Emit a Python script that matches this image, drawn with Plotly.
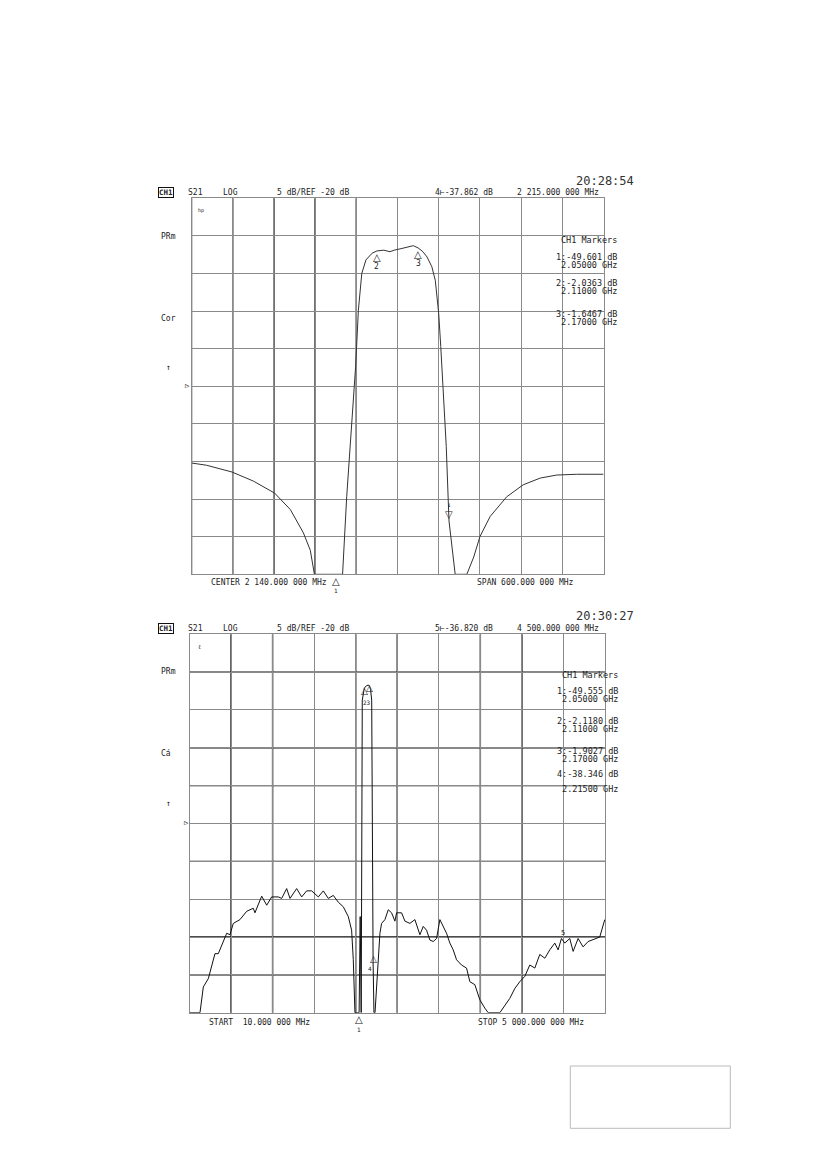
import plotly.graph_objects as go

# page body has an 8 px margin, so the figure is drawn 8 px in from the corner
OFF = 8
W, H = 826 - 2 * OFF, 1169 - 2 * OFF

# ---------------- data ----------------
# Upper trace: CENTER 2140 MHz, SPAN 600 MHz, 5 dB/div, REF -20 dB
top_freq = [1840, 1862, 1899, 1930, 1961, 1984, 2003, 2013, 2019, 2040, 2060,
            2066, 2073, 2079, 2083, 2088, 2094, 2103, 2110, 2120, 2129, 2135,
            2145, 2154, 2163, 2170, 2177, 2183, 2190, 2195, 2200, 2203, 2207,
            2211, 2215, 2219, 2224, 2241, 2251, 2260, 2275, 2299, 2323, 2348,
            2372, 2401, 2440]
top_db = [-30.2, -30.5, -31.4, -32.6, -34.2, -36.4, -39.5, -41.8, -45, -45, -45,
          -34.7, -24.9, -17.4, -9.9, -5.0, -3.2, -2.3, -2.0, -1.9, -2.1, -1.9,
          -1.7, -1.5, -1.3, -1.6, -2.1, -2.8, -4.1, -5.9, -10.3, -14.7, -21.4,
          -28.0, -37.9, -41.3, -45, -45, -42.7, -40.0, -37.3, -34.7, -33.1, -32.2,
          -31.8, -31.7, -31.7]

# Lower trace: START 10 MHz, STOP 5000 MHz
bot_freq = [10, 136, 176, 236, 316, 356, 457, 496, 536, 616, 697, 776, 796, 877,
            937, 997, 1077, 1117, 1177, 1217, 1297, 1357, 1417, 1477, 1557, 1617,
            1677, 1737, 1797, 1857, 1917, 1957, 1977, 1997, 2022, 2047, 2060, 2072,
            2085, 2098, 2110, 2135, 2160, 2172, 2185, 2198, 2205, 2215, 2225, 2238,
            2257, 2277, 2297, 2317, 2357, 2397, 2437, 2477, 2497, 2557, 2597, 2657,
            2717, 2777, 2817, 2857, 2897, 2937, 2977, 3017, 3057, 3097, 3137, 3177,
            3217, 3277, 3337, 3377, 3437, 3497, 3557, 3597, 3737, 3797, 3857, 3917,
            3977, 4037, 4097, 4157, 4217, 4277, 4337, 4397, 4437, 4477, 4517, 4577,
            4617, 4677, 4737, 4797, 4877, 4937, 4997]
bot_db = [-45, -45, -41.6, -40.5, -37.2, -37.2, -34.5, -34.7, -33.2, -32.7, -31.6,
          -31.2, -31.8, -29.6, -30.8, -29.7, -29.7, -29.9, -28.6, -29.9, -28.6,
          -29.7, -28.9, -28.9, -29.7, -28.9, -29.9, -29.5, -30.4, -31.0, -32.3,
          -34.1, -38.0, -45, -45, -45, -32.3, -45, -3.7, -2.4, -2.1, -1.8, -1.7,
          -1.9, -2.3, -3.7, -23.3, -38.3, -45, -45, -41.6, -38.0, -34.5, -33.2,
          -32.7, -31.4, -31.8, -32.9, -31.8, -31.8, -32.9, -33.2, -32.7, -34.7,
          -33.6, -34.1, -35.4, -35.6, -35.2, -32.7, -33.6, -34.5, -35.8, -36.7,
          -38.0, -38.7, -39.1, -40.9, -41.3, -43.3, -44.4, -45, -45, -44.0, -43.1,
          -41.8, -40.9, -40.2, -38.7, -39.1, -37.3, -37.8, -36.7, -35.8, -36.7,
          -35.2, -35.8, -35.2, -36.9, -35.2, -36.3, -35.6, -35.2, -35.0, -32.7]

# marker positions (frequency MHz, dB)
top_mk_freq = [2050, 2110, 2170, 2215]
top_mk_db = [-45, -2.0363, -1.6467, -37.862]
bot_mk_freq = [2050, 2110, 2170, 2215, 4500]
bot_mk_db = [-45, -2.118, -1.9027, -38.346, -35.4]

top_marker_text = ["CH1 Markers", "1:-49.601 dB", " 2.05000 GHz", "2:-2.0363 dB",
                   " 2.11000 GHz", "3:-1.6467 dB", " 2.17000 GHz"]
bot_marker_text = ["CH1 Markers", "1:-49.555 dB", " 2.05000 GHz", "2:-2.1180 dB",
                   " 2.11000 GHz", "3:-1.9027 dB", " 2.17000 GHz", "4:-38.346 dB",
                   " 2.21500 GHz"]

# ---------------- figure ----------------
def px(x):
    return (x - OFF) / W

def py(y):
    return 1 - (y - OFF) / H

FONT = "DejaVu Sans Mono"
fig = go.Figure()

fig.add_trace(go.Scatter(x=top_freq, y=top_db, mode="lines", xaxis="x", yaxis="y",
                         line=dict(color="#333333", width=1), hoverinfo="skip"))
fig.add_trace(go.Scatter(x=bot_freq, y=bot_db, mode="lines", xaxis="x2", yaxis="y2",
                         line=dict(color="#111111", width=1), hoverinfo="skip"))

axis_common = dict(showticklabels=False, ticks="", zeroline=False, showline=True,
                   linecolor="#8a8a8a", linewidth=1, mirror=True, showgrid=True,
                   gridcolor="#8a8a8a", gridwidth=1, fixedrange=True)

fig.update_layout(
    width=W, height=H, margin=dict(l=0, r=0, t=0, b=0),
    paper_bgcolor="white", plot_bgcolor="white", showlegend=False,
    xaxis=dict(domain=[px(191.5), px(603.5)], range=[1840, 2440], tick0=1840,
               dtick=60, anchor="y", **axis_common),
    yaxis=dict(domain=[py(574.3), py(198.3)], range=[-45, 5], tick0=-45, dtick=5,
               anchor="x", **axis_common),
    xaxis2=dict(domain=[px(189.5), px(605)], range=[10, 5000], tick0=10,
                dtick=499, anchor="y2", **axis_common),
    yaxis2=dict(domain=[py(1012.7), py(634.3)], range=[-45, 5], tick0=-45, dtick=5,
                anchor="x2", **axis_common),
)

# darker grid lines (the plotter drew some divisions heavier)
def vline(xr, yr, xv, color="#111111", w=1.4):
    fig.add_shape(type="line", xref=xr, yref=yr + " domain", x0=xv, x1=xv, y0=0, y1=1,
                  line=dict(color=color, width=w), layer="below")

def hline(xr, yr, yv, color="#111111", w=1.4):
    fig.add_shape(type="line", xref=xr + " domain", yref=yr, x0=0, x1=1, y0=yv, y1=yv,
                  line=dict(color=color, width=w), layer="below")

for k in [0, 1, 2, 3, 4]:
    vline("x", "y", 1840 + 60 * k)
for k in [1, 2, 4, 5, 7, 8]:
    vline("x2", "y2", 10 + 499 * k)
for k in [9, 7, 6, 4, 2, 1]:
    hline("x2", "y2", -45 + 5 * k)

# text helper
def T(text, x, y, size=8, anchor="left", color="#222222", **kw):
    fig.add_annotation(text=text, x=px(x), y=py(y), xref="paper", yref="paper",
                       xanchor=anchor, yanchor="middle", showarrow=False,
                       font=dict(family=FONT, size=size, color=color), **kw)

# headers
for (yh, ytime, time, mk, freq) in [(193, 181, "20:28:54", "4⊢-37.862 dB", "2 215.000 000 MHz"),
                                    (628, 616, "20:30:27", "5⊢-36.820 dB", "4 500.000 000 MHz")]:
    T("<b>CH1</b>", 158, yh, size=7.5, bordercolor="#111111", borderwidth=1, borderpad=0)
    T("S21", 186, yh, size=8)
    T("LOG", 221, yh, size=8)
    T("5 dB/REF -20 dB", 275, yh, size=8)
    T(mk, 433, yh, size=8)
    T(freq, 601, yh, size=8, anchor="right")
    T(time, 636, ytime, size=12, anchor="right", color="#333333")

# left-side labels
T("PRm", 159, 236, size=8)
T("Cor", 159, 318, size=8)
T("↑", 164, 368, size=8)
T("▷", 183, 386, size=7)
T("hp", 196, 210, size=5)
T("PRm", 159, 671, size=8)
T("Cá", 159, 753, size=8)
T("↑", 164, 803, size=8)
T("▷", 182, 823, size=7)
T("ℓ", 196, 646, size=6)

# marker tables
for i, s in enumerate(top_marker_text):
    ys = [240, 257, 265, 283, 291, 314, 322][i]
    T(s, 619, ys, size=8.5, anchor="right")
for i, s in enumerate(bot_marker_text):
    ys = [675, 691, 699, 721, 729, 751, 759, 774, 789][i]
    T(s, 620, ys, size=8.5, anchor="right")

# footers
T("CENTER 2 140.000 000 MHz", 209, 582, size=8)
T("SPAN 600.000 000 MHz", 475, 582, size=8)
T("START  10.000 000 MHz", 207, 1022, size=8)
T("STOP 5 000.000 000 MHz", 476, 1022, size=8)

# trace markers (triangles + numbers)
def tri(xr, yr, f, d, shift, down=False, size=10, xshift=0):
    fig.add_annotation(text="▽" if down else "△", x=f, y=d, xref=xr, yref=yr,
                       showarrow=False, yshift=shift, xshift=xshift,
                       font=dict(family="DejaVu Sans", size=size, color="#222"))

def num(xr, yr, f, d, lbl, shift, xshift=0, size=8):
    fig.add_annotation(text=lbl, x=f, y=d, xref=xr, yref=yr, showarrow=False,
                       yshift=shift, xshift=xshift,
                       font=dict(family=FONT, size=size, color="#222"))

tri("x", "y", top_mk_freq[0], top_mk_db[0], -7)
num("x", "y", top_mk_freq[0], top_mk_db[0], "1", -16, size=6)
tri("x", "y", top_mk_freq[1], top_mk_db[1], -6)
num("x", "y", top_mk_freq[1], top_mk_db[1], "2", -15)
tri("x", "y", top_mk_freq[2], top_mk_db[2], -6)
num("x", "y", top_mk_freq[2], top_mk_db[2], "3", -15)
tri("x", "y", top_mk_freq[3], top_mk_db[3], 6, down=True)
num("x", "y", top_mk_freq[3], top_mk_db[3], "↓", 16, size=7)

tri("x2", "y2", bot_mk_freq[0], bot_mk_db[0], -7)
num("x2", "y2", bot_mk_freq[0], bot_mk_db[0], "1", -17, size=6)
tri("x2", "y2", bot_mk_freq[1], bot_mk_db[1], -3, size=9)
tri("x2", "y2", bot_mk_freq[2], bot_mk_db[2], -1, size=9)
num("x2", "y2", bot_mk_freq[1], bot_mk_db[1], "23", -14, xshift=3, size=6)
tri("x2", "y2", bot_mk_freq[3], bot_mk_db[3], 3, size=9)
num("x2", "y2", bot_mk_freq[3], bot_mk_db[3], "4", -6, xshift=-3, size=6)
num("x2", "y2", bot_mk_freq[4], bot_mk_db[4], "5", 7, size=7)

# empty grey box at the bottom right of the page
fig.add_shape(type="rect", xref="paper", yref="paper", x0=px(570.3), x1=px(730.3),
              y0=py(1128.3), y1=py(1066), line=dict(color="#bbbbbb", width=1))

fig.write_html("out.html")
